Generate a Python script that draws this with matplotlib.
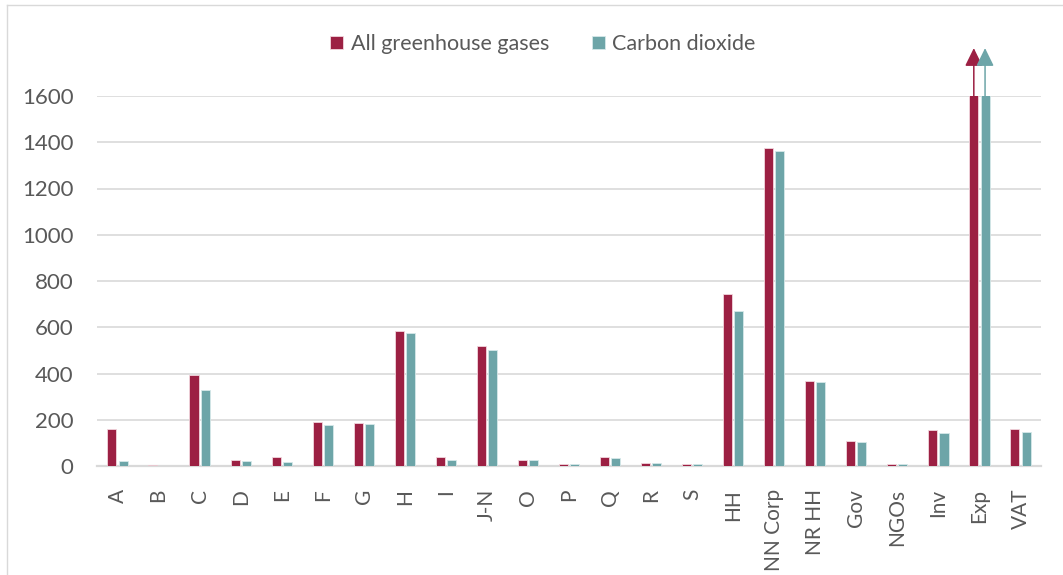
import matplotlib
matplotlib.use("Agg")
import matplotlib.pyplot as plt
import numpy as np
from matplotlib.lines import Line2D

categories = ["A", "B", "C", "D", "E", "F", "G", "H", "I", "J-N", "O", "P", "Q",
              "R", "S", "HH", "NN Corp", "NR HH", "Gov", "NGOs", "Inv", "Exp", "VAT"]

all_ghg = [160, 3, 395, 26, 38, 192, 187, 585, 38, 518, 27, 10, 38,
           14, 9, 745, 1375, 368, 108, 10, 154, 2400, 159]
co2 = [20, 2, 330, 23, 19, 176, 182, 577, 25, 502, 26, 9, 35,
       13, 9, 670, 1362, 365, 102, 9, 143, 2350, 147]

series_names = ["All greenhouse gases", "Carbon dioxide"]
colors = ["#9C2043", "#6DA5A8"]
y_ticks = [0, 200, 400, 600, 800, 1000, 1200, 1400, 1600]
y_max = 1600

plt.rcParams["font.family"] = ["Lato", "DejaVu Sans"]
text_color = "#595959"
grid_color = "#D9D9D9"

fig = plt.figure(figsize=(10.63, 5.75), dpi=100)
W, H = 1063, 575
ax = fig.add_axes([97 / W, 1 - 466 / H, (1041 - 97) / W, (466 - 96) / H])

x = np.arange(len(categories))
width = 0.22
offset = 0.137
bars1 = ax.bar(x - offset, all_ghg, width, color=colors[0], label=series_names[0],
               zorder=3, linewidth=0.6, edgecolor="#F2D6DD")
bars2 = ax.bar(x + offset, co2, width, color=colors[1], label=series_names[1],
               zorder=3, linewidth=0.6, edgecolor="#D6E8E9")

ax.set_xlim(-0.5, len(categories) - 0.5)
ax.set_ylim(0, y_max)
ax.set_yticks(y_ticks)
ax.set_yticklabels([str(v) for v in y_ticks])
ax.set_xticks(x)
ax.set_xticklabels(categories, rotation=90, va="top")

ax.grid(axis="y", color=grid_color, linewidth=1.2, zorder=0)
for s in ["top", "right", "left"]:
    ax.spines[s].set_visible(False)
ax.spines["bottom"].set_color(grid_color)
ax.spines["bottom"].set_linewidth(1.6)
ax.tick_params(axis="both", length=0, colors=text_color)
ax.tick_params(axis="y", pad=17, labelsize=16)
ax.tick_params(axis="x", pad=16.5, labelsize=15)

# Arrows for the bars that run past the top of the axis
for xi, vals, col in [(x - offset, all_ghg, colors[0]), (x + offset, co2, colors[1])]:
    for xv, v in zip(xi, vals):
        if v > y_max:
            ax.annotate("", xy=(xv, y_max + 207), xytext=(xv, y_max),
                        xycoords="data", annotation_clip=False,
                        arrowprops=dict(arrowstyle="-|>,head_length=0.55,head_width=0.27",
                                        mutation_scale=20, color=col, lw=1.1,
                                        shrinkA=0, shrinkB=0))

leg = fig.legend(handles=[bars1, bars2], labels=series_names, loc="center",
                 bbox_to_anchor=(543 / W, 1 - 44 / H), ncol=2, frameon=False,
                 fontsize=15.5, handlelength=0.6, handleheight=0.6,
                 handletextpad=0.35, columnspacing=2.0)
for t in leg.get_texts():
    t.set_color(text_color)

# Chart frame
fig.add_artist(Line2D([7 / W, 7 / W], [0, 1 - 5 / H], transform=fig.transFigure,
                      color="#D9D9D9", lw=1.0))
fig.add_artist(Line2D([7 / W, 1], [1 - 5 / H, 1 - 5 / H], transform=fig.transFigure,
                      color="#D9D9D9", lw=1.0))

fig.savefig("out.png", dpi=100)
